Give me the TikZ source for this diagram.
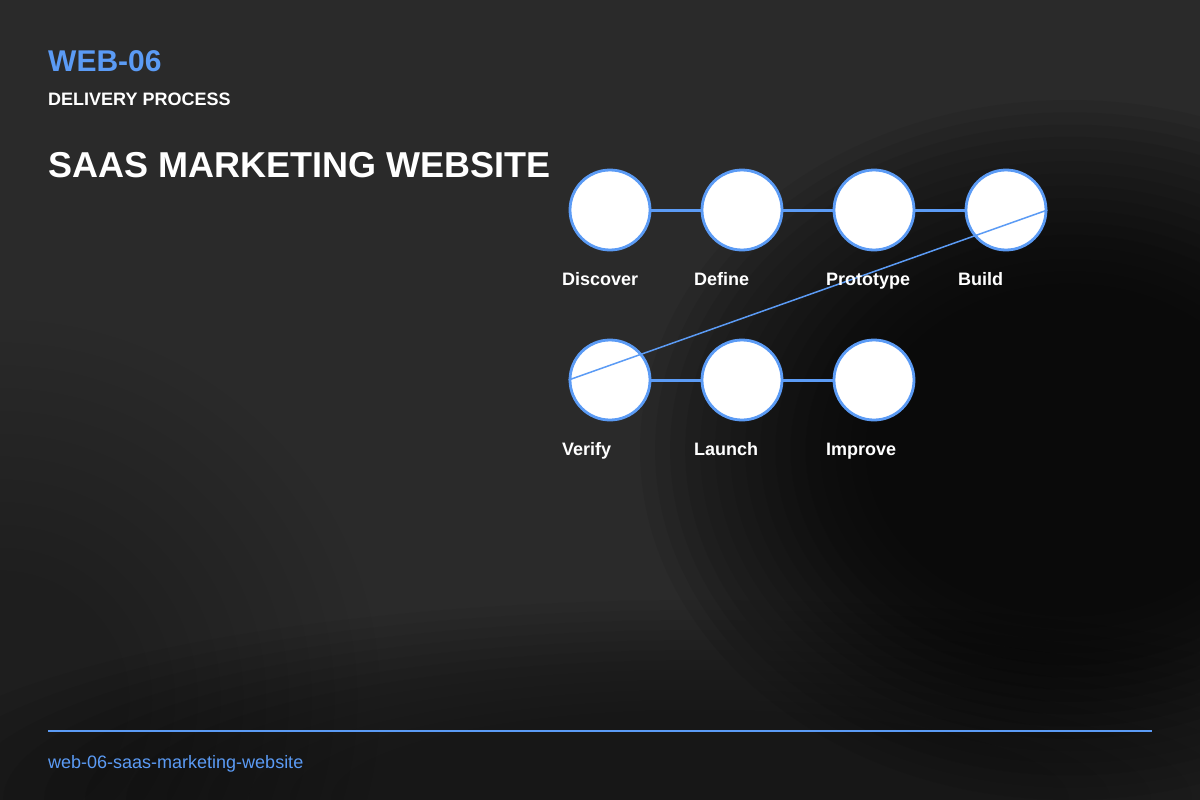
\documentclass[tikz,border=0pt]{standalone}
\usepackage{fontspec}
\setmainfont{Liberation Sans}
\usetikzlibrary{positioning}
\definecolor{accent}{HTML}{5B9BF5}
\definecolor{backdrop}{HTML}{2A2A2A}

\begin{document}
\begin{tikzpicture}[
        x=1pt, y=-1pt,
        node distance=132pt, on grid,
        phase/.style={circle, draw=accent, line width=2.8pt, fill=white,
            minimum size=80pt, inner sep=0pt},
        phaselabel/.style={anchor=base west, inner sep=0pt, text=white,
            font=\bfseries\fontsize{18}{18}\selectfont},
        heading/.style={anchor=base west, inner sep=0pt, text=white},
        link/.style={draw=accent, line width=3pt},
        backlink/.style={draw=accent, line width=1.5pt}
        ]
        \useasboundingbox (0,0) rectangle (1200,800);
        % backdrop
        \fill[backdrop] (0,0) rectangle (1200,800);
        \foreach \k in {0,...,15}
            \fill[black, opacity=.065] (1070,450) ellipse [x radius={430pt*(1-0.035*\k)}, y radius={350pt*(1-0.035*\k)}];
        \foreach \k in {0,...,11}
            \fill[black, opacity=.035] (700,800) ellipse [x radius={820pt*(1-0.05*\k)}, y radius={200pt*(1-0.05*\k)}];
        \foreach \k in {0,...,11}
            \fill[black, opacity=.025] (0,700) ellipse [x radius={380pt*(1-0.06*\k)}, y radius={380pt*(1-0.06*\k)}];
        \foreach \k in {0,...,9}
            \fill[white, opacity=.004] (480,520) ellipse [x radius={300pt*(1-0.07*\k)}, y radius={240pt*(1-0.07*\k)}];

        % headings
        \node[heading, text=accent, font=\bfseries\fontsize{30}{30}\selectfont] (code) at (48,72) {WEB-06};
        \node[heading, font=\bfseries\fontsize{18}{18}\selectfont] (kind) at (48,105) {DELIVERY PROCESS};
        \node[heading, font=\bfseries\fontsize{36}{36}\selectfont] (title) at (48,177) {SAAS MARKETING WEBSITE};

        % phases
        \node [phase] (discover) at (610,210) {};
        \node [phase, right=of discover] (define) {};
        \node [phase, right=of define] (prototype) {};
        \node [phase, right=of prototype] (build) {};
        \node [phase, below=170pt of discover] (verify) {};
        \node [phase, right=of verify] (launch) {};
        \node [phase, right=of launch] (improve) {};

        \draw[link] (discover) -- (define);
        \draw[link] (define) -- (prototype);
        \draw[link] (prototype) -- (build);
        \draw[link] (verify) -- (launch);
        \draw[link] (launch) -- (improve);
        \draw[backlink] (build.east) -- (verify.west);

        \node [phaselabel] (discover-l) at ([shift={(-48pt,-75pt)}]discover.center) {Discover};
        \node [phaselabel] (define-l) at ([shift={(-48pt,-75pt)}]define.center) {Define};
        \node [phaselabel] (prototype-l) at ([shift={(-48pt,-75pt)}]prototype.center) {Prototype};
        \node [phaselabel] (build-l) at ([shift={(-48pt,-75pt)}]build.center) {Build};
        \node [phaselabel] (verify-l) at ([shift={(-48pt,-75pt)}]verify.center) {Verify};
        \node [phaselabel] (launch-l) at ([shift={(-48pt,-75pt)}]launch.center) {Launch};
        \node [phaselabel] (improve-l) at ([shift={(-48pt,-75pt)}]improve.center) {Improve};

        % footer
        \coordinate (rule-w) at (48,731);
        \coordinate (rule-e) at (1152,731);
        \draw[accent, line width=1.8pt] (rule-w) -- (rule-e);
        \node[heading, text=accent, font=\fontsize{18}{18}\selectfont] (slug) at (48,768) {web-06-saas-marketing-website};
\end{tikzpicture}
\end{document}
